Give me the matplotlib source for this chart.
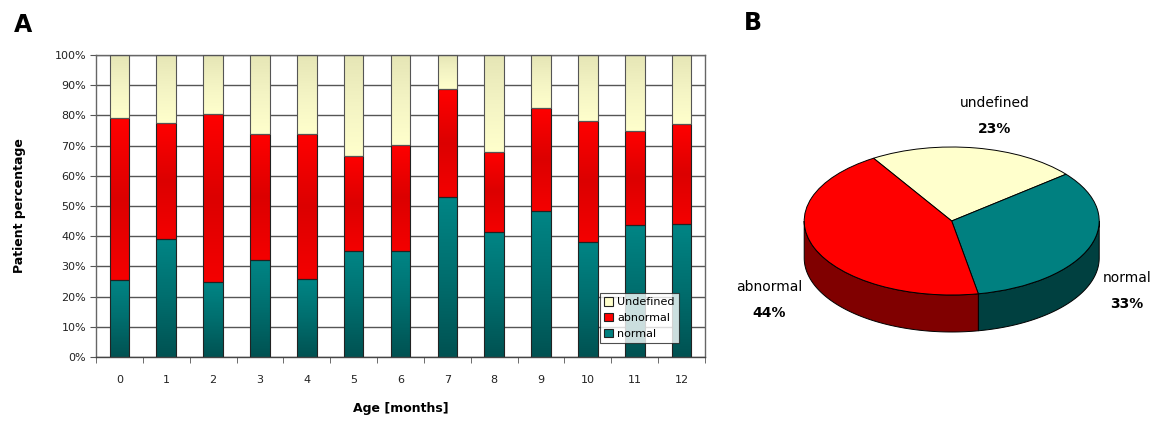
import numpy as np
import matplotlib.pyplot as plt
from matplotlib.patches import Patch, Polygon
from matplotlib.colors import LinearSegmentedColormap

# data
ages = [str(i) for i in range(13)]
normal = [25.5, 39.2, 24.7, 32.0, 25.8, 35.0, 35.0, 52.9, 41.5, 48.2, 38.2, 43.7, 44.1]
abnormal_top = [79.0, 77.4, 80.6, 73.7, 74.0, 66.7, 70.2, 88.6, 68.0, 82.6, 78.3, 74.8, 77.0]
abnormal = [a - n for a, n in zip(abnormal_top, normal)]
undefined = [100 - a for a in abnormal_top]

pie_labels = ["undefined", "normal", "abnormal"]
pie_values = [23, 33, 44]

plt.rcParams['font.family'] = 'DejaVu Sans'

fig = plt.figure(figsize=(11.57, 4.23), dpi=100)
W, H = 1157, 423

# ---------------- A: stacked bars ----------------
ax = fig.add_axes([96 / W, 1 - 357 / H, 609 / W, 302 / H])
x = np.arange(len(ages))
bw = 0.42

# gradient colours, top -> bottom
grads = {
    'normal': ['#008585', '#006e6e', '#005252'],
    'abnormal': ['#ff0000', '#dc0000', '#f40000'],
    'undefined': ['#e6e6b6', '#f4f4c4', '#ffffcc'],
}


def grad_bars(bars, colors):
    cmap = LinearSegmentedColormap.from_list('g', colors)
    img = np.linspace(0, 1, 64).reshape(-1, 1)
    for b in bars:
        x0, y0 = b.get_x(), b.get_y()
        w, h = b.get_width(), b.get_height()
        im = ax.imshow(img, cmap=cmap, extent=[x0, x0 + w, y0, y0 + h],
                       aspect='auto', origin='upper', zorder=2)
        im.set_clip_path(b)


b1 = ax.bar(x, normal, bw, color='none', edgecolor='#222222', lw=0.8, zorder=3)
b2 = ax.bar(x, abnormal, bw, bottom=normal, color='none', edgecolor='#222222', lw=0.8, zorder=3)
b3 = ax.bar(x, undefined, bw, bottom=abnormal_top, color='none', edgecolor='#555555', lw=0.8, zorder=3)
grad_bars(b1, grads['normal'])
grad_bars(b2, grads['abnormal'])
grad_bars(b3, grads['undefined'])

ax.set_xlim(-0.5, 12.5)
ax.set_ylim(0, 100)
ax.set_yticks(np.arange(0, 101, 10))
ax.set_yticklabels([f"{v}%" for v in range(0, 101, 10)], fontsize=8, color='#222222')
ax.set_xticks(x)
ax.set_xticklabels(ages, fontsize=8, color='#222222')
ax.set_xticks(np.arange(-0.5, 13, 1), minor=True)
ax.tick_params(axis='x', which='major', length=0, pad=13)
ax.tick_params(axis='x', which='minor', length=4, color='#555555', direction='out')
ax.tick_params(axis='y', length=4, color='#555555', direction='out', pad=3)
ax.yaxis.grid(True, color='#555555', lw=1)
ax.set_axisbelow(True)
for s in ax.spines.values():
    s.set_color('#666666')
    s.set_linewidth(1)
ax.spines['bottom'].set_color('#444444')

ax.set_ylabel("Patient percentage", fontsize=9, fontweight='bold')
ax.yaxis.set_label_coords(-0.115, 0.5)
ax.set_xlabel("Age [months]", fontsize=9, fontweight='bold')
ax.xaxis.set_label_coords(0.5, -0.15)

handles = [Patch(facecolor='#ffffcc', edgecolor='#222222', lw=0.8, label='Undefined'),
           Patch(facecolor='#ff0000', edgecolor='#222222', lw=0.8, label='abnormal'),
           Patch(facecolor='#008080', edgecolor='#222222', lw=0.8, label='normal')]
leg = ax.legend(handles=handles, loc='lower right', bbox_to_anchor=(0.958, 0.046),
                borderaxespad=0, fontsize=8, frameon=True, fancybox=False,
                handlelength=0.8, handleheight=0.8, handletextpad=0.4,
                borderpad=0.4, labelspacing=0.5)
leg.get_frame().set_edgecolor('#222222')
leg.get_frame().set_linewidth(0.8)
leg.set_zorder(5)

fig.text(14 / W, 1 - 25 / H, "A", fontsize=17, fontweight='bold', va='center')
fig.text(744 / W, 1 - 23 / H, "B", fontsize=17, fontweight='bold', va='center')

# ---------------- B: 3D-like pie ----------------
px0, px1, py0, py1 = 760, 1150, 60, 380
cx, cy, rx, ry = 951.7, 221, 147.5, 74
pax = fig.add_axes([px0 / W, 1 - py1 / H, (px1 - px0) / W, (py1 - py0) / H])
top_cols = ['#ffffcc', '#008080', '#ff0000']
side_cols = ['#808066', '#004040', '#800000']
wedges, _ = pax.pie(pie_values, colors=top_cols, startangle=122, counterclock=False,
                    wedgeprops=dict(edgecolor='black', linewidth=0.7))
for w in wedges:
    w.set_zorder(3)

depth = 0.5
for w, c in zip(wedges, side_cols):
    t1, t2 = w.theta1, w.theta2
    for k in (-360, 0, 360):
        a, b = max(t1 + k, 180), min(t2 + k, 360)
        if a < b:
            th = np.radians(np.linspace(a, b, 80))
            top = np.column_stack([np.cos(th), np.sin(th)])
            bot = np.column_stack([np.cos(th[::-1]), np.sin(th[::-1]) - depth])
            pax.add_patch(Polygon(np.vstack([top, bot]), closed=True, facecolor=c,
                                  edgecolor='black', lw=0.7, zorder=2))

pax.set_aspect('auto')
pax.set_xlim(-(cx - px0) / rx, (px1 - cx) / rx)
pax.set_ylim(-(py1 - cy) / ry, (cy - py0) / ry)
pax.axis('off')

label_pos = {'undefined': (995, 103), 'normal': (1126.7, 278), 'abnormal': (769, 287)}
for lab, val in zip(pie_labels, pie_values):
    lx, ly = label_pos[lab]
    pax.text((lx - cx) / rx, (cy - ly) / ry, lab, ha='center', va='center', fontsize=10)
    pax.text((lx - cx) / rx, (cy - ly - 26) / ry, f"{val}%", ha='center', va='center',
             fontsize=10, fontweight='bold')

fig.savefig("out.png", dpi=100)
